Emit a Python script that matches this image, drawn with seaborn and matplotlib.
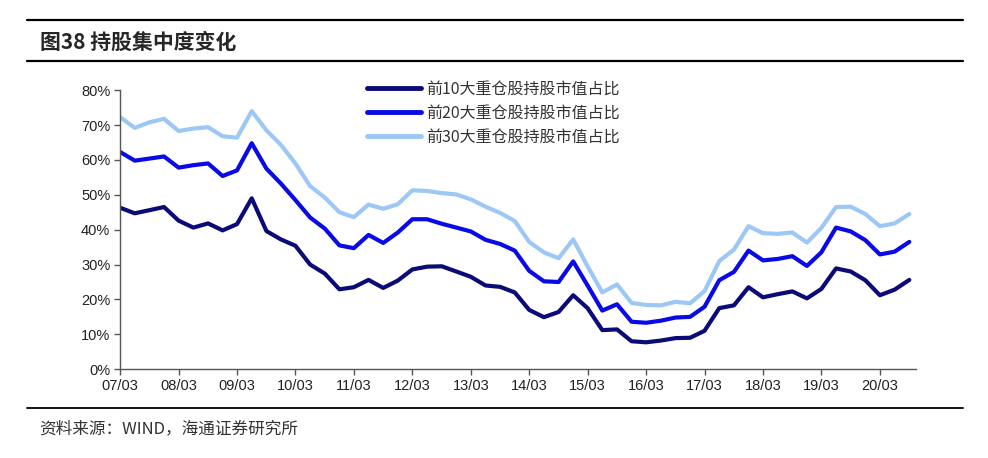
import matplotlib
matplotlib.use('Agg')
import matplotlib.pyplot as plt
import matplotlib.dates as mdates
from matplotlib.ticker import FuncFormatter, MultipleLocator
import pandas as pd
import seaborn as sns

# quarterly data, 2007-03 .. 2020-09
dates = pd.date_range('2007-03-01', '2020-09-01', freq='3MS')

top10 = [46.3, 44.7, 45.6, 46.5, 42.6, 40.6, 41.8, 39.8, 41.6, 49.0,
         39.6, 37.2, 35.4, 30.0, 27.4, 22.9, 23.5, 25.6, 23.3, 25.4,
         28.6, 29.4, 29.5, 28.0, 26.5, 24.0, 23.6, 22.0, 17.0, 14.9,
         16.4, 21.2, 17.5, 11.2, 11.4, 8.0, 7.7, 8.2, 8.9, 9.0,
         11.0, 17.5, 18.3, 23.5, 20.6, 21.5, 22.3, 20.3, 23.0, 28.9,
         28.0, 25.5, 21.2, 22.8, 25.6]
top20 = [62.3, 59.8, 60.4, 61.0, 57.8, 58.5, 59.0, 55.4, 57.0, 64.8,
         57.5, 53.2, 48.5, 43.5, 40.3, 35.5, 34.7, 38.5, 36.2, 39.2,
         43.0, 43.0, 41.7, 40.6, 39.5, 37.1, 35.9, 34.0, 28.2, 25.2,
         25.0, 30.9, 24.0, 16.8, 18.6, 13.6, 13.3, 13.9, 14.8, 15.0,
         17.9, 25.5, 27.9, 34.0, 31.2, 31.6, 32.4, 29.6, 33.5, 40.6,
         39.5, 37.0, 32.9, 33.7, 36.5]
top30 = [72.3, 69.2, 70.8, 71.8, 68.3, 69.0, 69.4, 66.8, 66.4, 74.0,
         68.5, 64.3, 59.0, 52.5, 49.2, 45.0, 43.6, 47.2, 46.0, 47.3,
         51.3, 51.1, 50.5, 50.1, 48.7, 46.6, 44.8, 42.5, 36.5, 33.5,
         31.8, 37.2, 29.5, 22.0, 24.3, 19.0, 18.4, 18.3, 19.3, 18.9,
         22.4, 31.0, 34.3, 41.0, 39.0, 38.8, 39.2, 36.3, 40.5, 46.5,
         46.6, 44.5, 41.0, 41.8, 44.5]

names = ['前10大重仓股持股市值占比', '前20大重仓股持股市值占比', '前30大重仓股持股市值占比']
colors = ['#0B0B78', '#0A0AE6', '#9DC8F5']

df = pd.DataFrame({'date': list(dates) * 3,
                   'value': top10 + top20 + top30,
                   'series': [names[0]] * len(dates) + [names[1]] * len(dates) + [names[2]] * len(dates)})

sns.set_style('white')
plt.rcParams['font.family'] = ['Liberation Sans', 'Noto Sans CJK SC', 'DejaVu Sans']
cjk = ['Noto Sans CJK SC', 'DejaVu Sans']

fig = plt.figure(figsize=(9.88, 4.58), dpi=100)
ax = fig.add_axes([0.1215, 0.194, 0.806, 0.609])

sns.lineplot(data=df, x='date', y='value', hue='series', palette=colors,
             linewidth=3, ax=ax, legend=True)

ax.set_xlim(pd.Timestamp('2007-03-01'), pd.Timestamp('2020-10-15'))
ax.set_ylim(0, 80)
ax.yaxis.set_major_locator(MultipleLocator(10))
ax.yaxis.set_major_formatter(FuncFormatter(lambda v, p: f'{v:.0f}%'))
ax.xaxis.set_major_locator(mdates.MonthLocator(bymonth=3))
ax.xaxis.set_major_formatter(mdates.DateFormatter('%y/%m'))
ax.set_xlabel('')
ax.set_ylabel('')
ax.tick_params(axis='both', direction='out', length=4, width=1, color='#555555',
               labelsize=10.5, labelcolor='#222222', pad=3, left=True, bottom=True)
for s in ['top', 'right']:
    ax.spines[s].set_visible(False)
for s in ['left', 'bottom']:
    ax.spines[s].set_color('#555555')
    ax.spines[s].set_linewidth(1)

leg = ax.legend(loc='upper left', bbox_to_anchor=(0.292, 1.087), frameon=False,
                handlelength=3.4, handletextpad=0.3, labelspacing=0.45,
                prop={'family': cjk, 'size': 11.5})
for line in leg.get_lines():
    line.set_linewidth(3.5)
for t in leg.get_texts():
    t.set_color('#333333')

# header and footer rules
fig.add_artist(plt.Line2D([0.027, 0.975], [1 - 20 / 458, 1 - 20 / 458], color='black', lw=1.6))
fig.add_artist(plt.Line2D([0.027, 0.975], [1 - 61 / 458, 1 - 61 / 458], color='black', lw=1.6))
fig.add_artist(plt.Line2D([0.027, 0.975], [1 - 408 / 458, 1 - 408 / 458], color='black', lw=1.3))
fig.text(0.04, 1 - 42 / 458, '图38 持股集中度变化', fontsize=15, fontweight='bold',
         va='center', ha='left', family=cjk)
fig.text(0.04, 1 - 429 / 458, '资料来源：WIND，海通证券研究所', fontsize=12, color='#333333',
         va='center', ha='left', family=cjk)

fig.savefig('out.png', dpi=100)
